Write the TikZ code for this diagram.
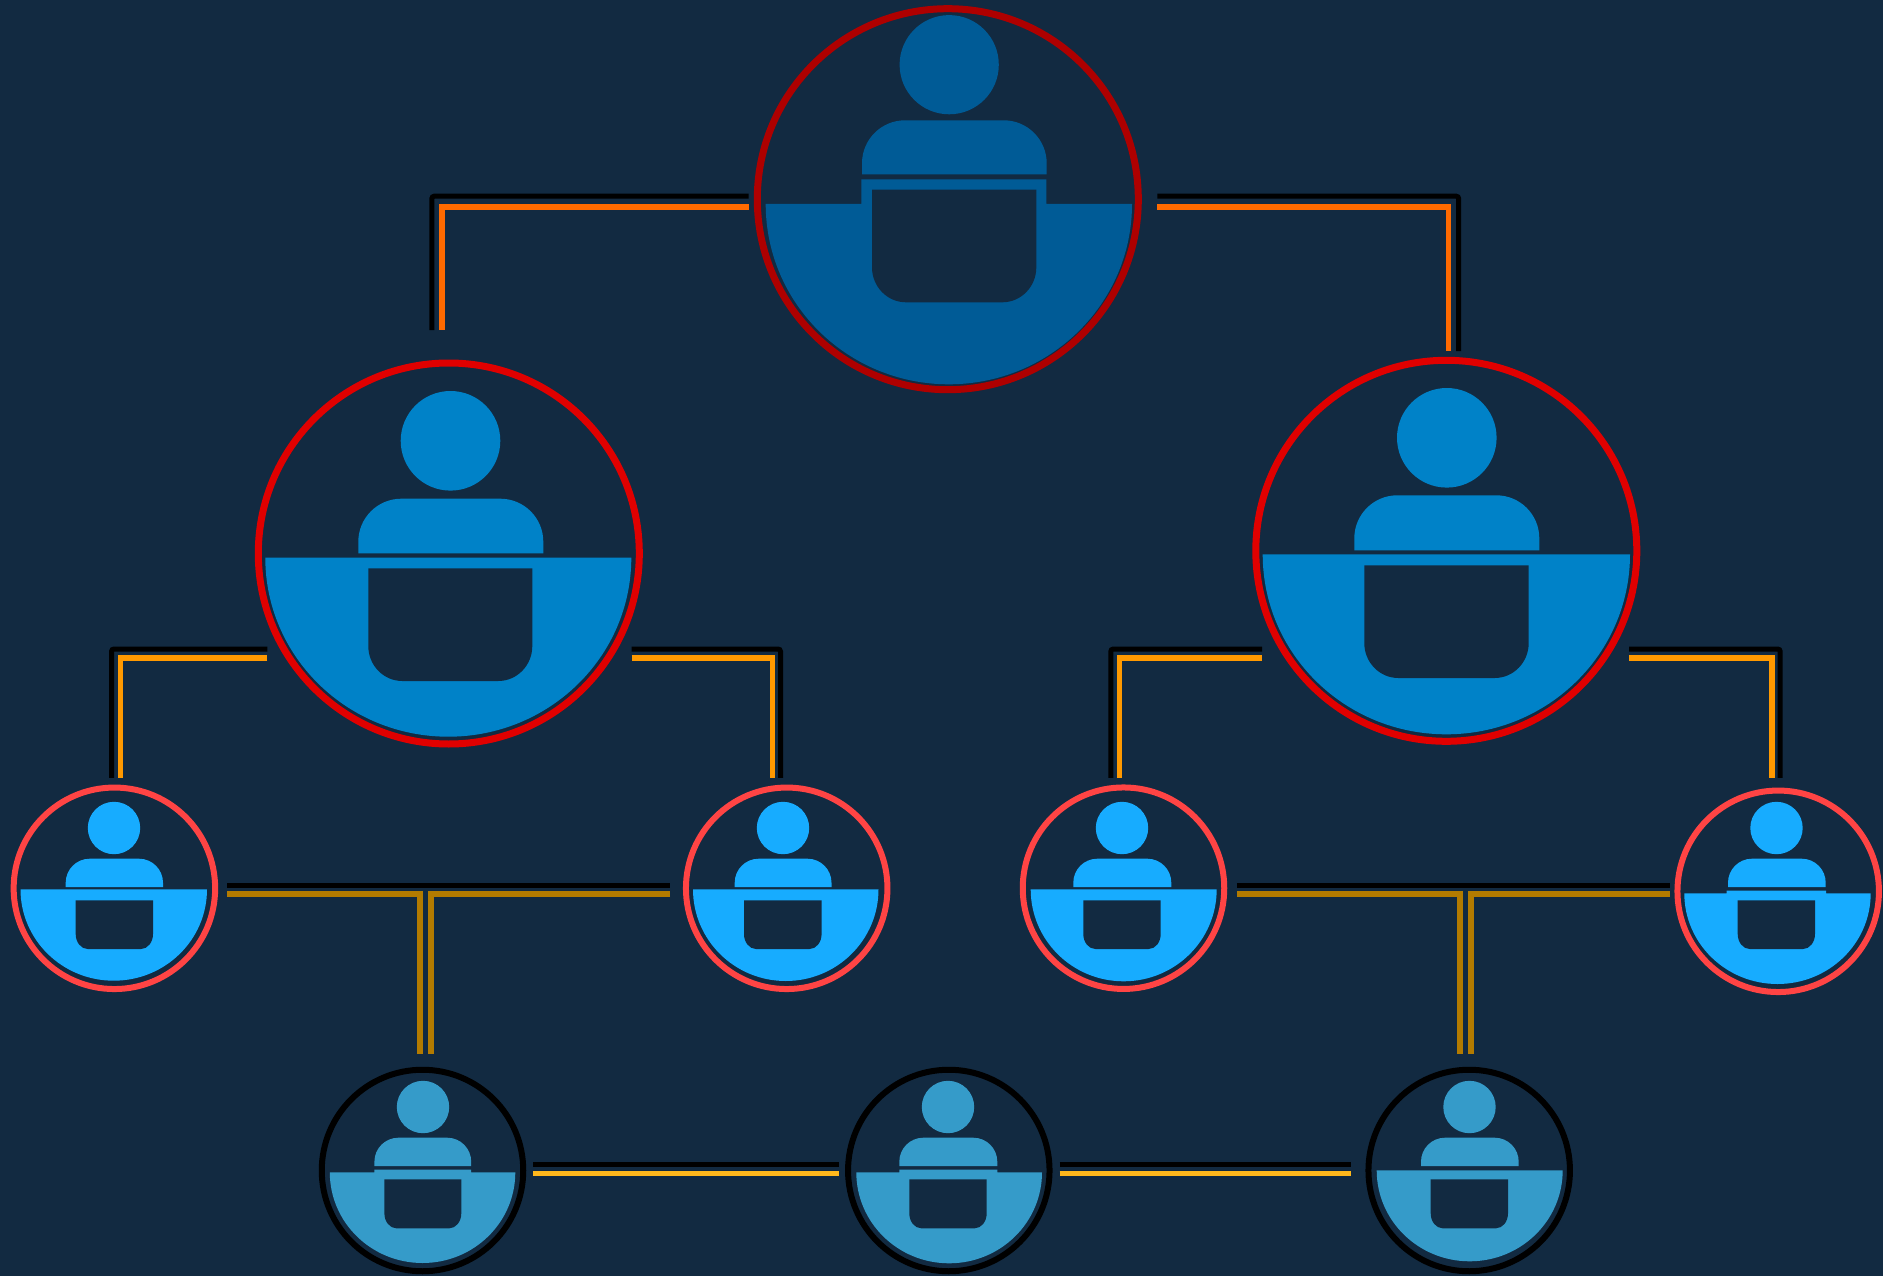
\documentclass[tikz,border=0pt]{standalone}
\usetikzlibrary{calc}
\definecolor{bgc}{HTML}{122A41}
\definecolor{ftop}{HTML}{005B96}
\definecolor{fmid}{HTML}{0082C8}
\definecolor{fsmall}{HTML}{17ACFF}
\definecolor{fbot}{HTML}{359BC9}
\definecolor{rtop}{HTML}{AE0000}
\definecolor{rmid}{HTML}{E00000}
\definecolor{rsmall}{HTML}{FF4444}
\definecolor{lorange}{HTML}{FF6A00}
\definecolor{lamber}{HTML}{FF9900}
\definecolor{lgold}{HTML}{B37B00}
\definecolor{lyellow}{HTML}{FFB81C}
\tikzset{
  bigring/.style={circle,draw,line width=7pt,minimum size=381pt,inner sep=0pt,outer sep=0pt},
  smallring/.style={circle,draw,line width=6pt,minimum size=201.5pt,inner sep=0pt,outer sep=0pt},
  shadowline/.style={draw=black,line width=5pt,rounded corners=2.5pt},
  orangeline/.style={draw=lorange,line width=5.4pt},
  amberline/.style={draw=lamber,line width=5.6pt},
  goldline/.style={draw=lgold,line width=6pt},
  yellowline/.style={draw=lyellow,line width=5.4pt}
}
% fill, centre x, centre y, radius
\newcommand\iconhead[4]{\fill[#1] (#2,#3) circle[radius=#4];}
% fill, x1, x2, top y, bottom y, corner radius
\newcommand\iconbody[6]{\fill[#1] (#2,#5) -- (#2,#4+#6) arc[start angle=180,end angle=270,radius=#6] -- (#3-#6,#4) arc[start angle=270,end angle=360,radius=#6] -- (#3,#5) -- cycle;}
% fill, centre x, half width, top y, bottom y, raised part x1, x2, top y
\newcommand\icondesk[8]{\pgfmathsetmacro\deskry{#5-#4}\fill[#1] (#2-#3,#4) arc[start angle=180,end angle=0,x radius=#3,y radius=\deskry] -- (#7,#4) -- (#7,#8) -- (#6,#8) -- (#6,#4) -- cycle;}
% x1, x2, top y, bottom y, corner x radius, corner y radius
\newcommand\iconhole[6]{\fill[bgc] (#1,#3) -- (#1,#4-#6) arc[start angle=180,end angle=90,x radius=#5,y radius=#6] -- (#2-#5,#4) arc[start angle=90,end angle=0,x radius=#5,y radius=#6] -- (#2,#3) -- cycle;}
\begin{document}
\begin{tikzpicture}[x=1pt,y=-1pt]
\useasboundingbox (0,0) rectangle (1883,1276);
\fill[bgc] (0,0) rectangle (1883,1276);
% nodes
\node[bigring,draw=rtop] (top) at (947.8,199.2) {};
\node[bigring,draw=rmid] (midl) at (448.8,553.5) {};
\node[bigring,draw=rmid] (midr) at (1446.3,550.8) {};
\node[smallring,draw=rsmall] (s1) at (114.4,888.3) {};
\node[smallring,draw=rsmall] (s2) at (786.7,888.3) {};
\node[smallring,draw=rsmall] (s3) at (1123.5,888.2) {};
\node[smallring,draw=rsmall] (s4) at (1778.2,891.3) {};
\node[smallring,draw=black] (b1) at (422.5,1170.5) {};
\node[smallring,draw=black] (b2) at (948.8,1170.5) {};
\node[smallring,draw=black] (b3) at (1469.2,1170.5) {};
% icons
\iconhead{ftop}{949.2}{64.7}{49.6}
\iconbody{ftop}{862}{1046.7}{120.3}{174.3}{43}
\icondesk{ftop}{948.85}{183.15}{204}{384.3}{861.3}{1046.3}{179.3}
\iconhole{872}{1036.3}{189.7}{302.3}{34}{35}

\iconhead{fmid}{450.5}{440.8}{49.8}
\iconbody{fmid}{358.3}{543.3}{498.7}{553.3}{43}
\icondesk{fmid}{448.3}{183}{557.7}{736.7}{400}{500}{557.7}
\iconhole{368.3}{532.3}{568.3}{681}{34}{35}

\iconhead{fmid}{1446.8}{437.8}{49.8}
\iconbody{fmid}{1354.3}{1539.3}{495.3}{550.3}{43}
\icondesk{fmid}{1446.35}{183.65}{554.3}{734.3}{1400}{1500}{554.3}
\iconhole{1364.3}{1528.7}{565.3}{678}{34}{35}

\iconhead{fsmall}{114}{828}{26.2}
\iconbody{fsmall}{65.7}{163}{858.7}{887}{24}
\icondesk{fsmall}{113.75}{93.25}{889.3}{980.7}{80}{150}{889.3}
\iconhole{75.7}{153}{900.3}{949}{12}{15}

\iconhead{fsmall}{783}{828}{26.2}
\iconbody{fsmall}{734.7}{831.5}{858.7}{887}{24}
\icondesk{fsmall}{785.75}{92.75}{889.3}{981}{750}{820}{889.3}
\iconhole{744}{821.6}{900.3}{949}{12}{15}

\iconhead{fsmall}{1122}{828}{26.2}
\iconbody{fsmall}{1073.3}{1171.3}{858.7}{887}{24}
\icondesk{fsmall}{1123.7}{93}{889.3}{981.3}{1090}{1150}{889.3}
\iconhole{1083.3}{1160.7}{900.3}{949}{12}{15}

\iconhead{fsmall}{1776.5}{828}{26.2}
\iconbody{fsmall}{1728}{1825.7}{858.7}{887}{24}
\icondesk{fsmall}{1777.5}{93.2}{893.3}{984}{1726.7}{1826}{890.7}
\iconhole{1737.7}{1815}{900.3}{949}{12}{15}

\iconhead{fbot}{423}{1107}{26.2}
\iconbody{fbot}{374.4}{471.2}{1137.7}{1166}{24}
\icondesk{fbot}{422.55}{92.75}{1172.3}{1263}{374.4}{471.2}{1169.7}
\iconhole{384.4}{461.3}{1179.3}{1228.3}{12}{15}

\iconhead{fbot}{948}{1107}{26.2}
\iconbody{fbot}{899.3}{997.3}{1137.7}{1166}{24}
\icondesk{fbot}{949.15}{92.85}{1172.3}{1263.3}{899.3}{997.3}{1169.7}
\iconhole{909.3}{986.7}{1179.3}{1228.3}{12}{15}

\iconhead{fbot}{1469.5}{1107}{26.2}
\iconbody{fbot}{1421}{1518.7}{1137.7}{1166}{24}
\icondesk{fbot}{1469.7}{93}{1170.3}{1261.3}{1421}{1518.7}{1170.3}
\iconhole{1430.7}{1508}{1179.3}{1228.3}{12}{15}
% top connectors
\draw[shadowline] ($(top.west)+(-8.7,-3)$) -| ($(midl.north)+(-17,-33)$);
\draw[orangeline] ($(top.west)+(-8.7,7.8)$) -| ($(midl.north)+(-7,-33)$);
\draw[shadowline] ($(top.east)+(19,-3)$) -| ($(midr.north)+(12.4,-9.3)$);
\draw[orangeline] ($(top.east)+(19,7.8)$) -| ($(midr.north)+(2.4,-9.3)$);
% middle connectors
\draw[shadowline] ($(midl.west)+(9,95.5)$) -| ($(s1.north)+(-2.9,-9.6)$);
\draw[amberline] ($(midl.west)+(9,104.2)$) -| ($(s1.north)+(5.9,-9.6)$);
\draw[shadowline] ($(midl.east)+(-7.6,95.5)$) -| ($(s2.north)+(-6.2,-9.6)$);
\draw[amberline] ($(midl.east)+(-7.6,104.2)$) -| ($(s2.north)+(-14.4,-9.6)$);
\draw[shadowline] ($(midr.west)+(6.2,98.2)$) -| ($(s3.north)+(-12.7,-9.6)$);
\draw[amberline] ($(midr.west)+(6.2,107.2)$) -| ($(s3.north)+(-4.2,-9.6)$);
\draw[shadowline] ($(midr.east)+(-7.8,98.2)$) -| ($(s4.north)+(2,-12.6)$);
\draw[amberline] ($(midr.east)+(-7.8,107.2)$) -| ($(s4.north)+(-6.5,-12.6)$);
% T connectors
\draw[shadowline] ($(s1.east)+(12.1,-3)$) -- ($(s2.west)+(-15.9,-3)$);
\draw[goldline] ($(s1.east)+(12.1,5.7)$) -| ($(b1.north)+(-2.5,-15.3)$);
\draw[goldline] ($(s2.west)+(-15.9,5.7)$) -| ($(b1.north)+(8.8,-15.3)$);
\draw[shadowline] ($(s3.east)+(12.6,-3.2)$) -- ($(s4.west)+(-7.7,-6.3)$);
\draw[goldline] ($(s3.east)+(12.6,5.8)$) -| ($(b3.north)+(-8.9,-15.8)$);
\draw[goldline] ($(s4.west)+(-7.7,2.4)$) -| ($(b3.north)+(2.1,-15.8)$);
% bottom connectors
\draw[shadowline] ($(b1.east)+(9.8,-6)$) -- ($(b2.west)+(-8.6,-6)$);
\draw[yellowline] ($(b1.east)+(9.8,2.7)$) -- ($(b2.west)+(-8.6,2.7)$);
\draw[shadowline] ($(b2.east)+(10,-6)$) -- ($(b3.west)+(-17.7,-6)$);
\draw[yellowline] ($(b2.east)+(10,2.7)$) -- ($(b3.west)+(-17.7,2.7)$);
\end{tikzpicture}
\end{document}
